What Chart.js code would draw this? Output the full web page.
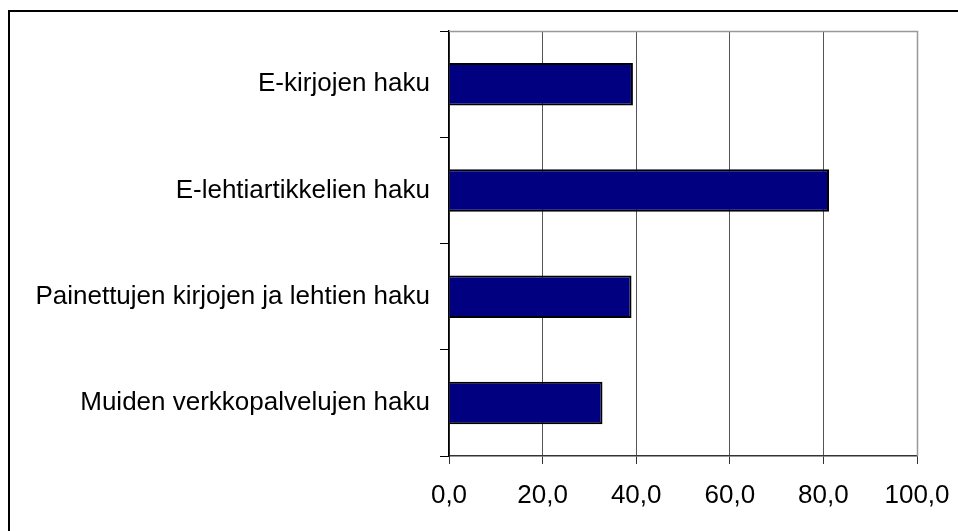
<!DOCTYPE html>
<html>
<head>
<meta charset="utf-8">
<script src="https://cdn.jsdelivr.net/npm/chart.js@4/dist/chart.umd.min.js"></script>
<style>
    html, body { margin: 0; padding: 0; background: #fff; }
    #wrap { position: relative; width: 958px; height: 531px; }
</style>
</head>
<body>
<div id="wrap"><canvas id="hakuChart"></canvas></div>
<script>
// Chart values
const categories = [
    'E-kirjojen haku',
    'E-lehtiartikkelien haku',
    'Painettujen kirjojen ja lehtien haku',
    'Muiden verkkopalvelujen haku'
];
const values = [39.3, 81.2, 39.0, 32.8];
const xTicks = [0, 20, 40, 60, 80, 100];

// Outer frame and grey plot edge, like the original spreadsheet chart
const framePlugin = {
    id: 'frame',
    beforeDraw(chart) {
        const c = chart.ctx;
        c.save();
        c.strokeStyle = '#000';
        c.lineWidth = 2;
        c.beginPath();
        c.moveTo(9, chart.height);
        c.lineTo(9, 11);
        c.lineTo(chart.width, 11);
        c.stroke();
        c.restore();
    },
    afterDraw(chart) {
        const c = chart.ctx;
        const area = chart.chartArea;
        c.save();
        c.strokeStyle = '#999';
        c.lineWidth = 1.5;
        c.beginPath();
        c.moveTo(area.left, area.top + 0.5);
        c.lineTo(area.right + 0.5, area.top + 0.5);
        c.lineTo(area.right + 0.5, area.bottom);
        c.stroke();
        c.restore();
    }
};

const font = { family: '"Liberation Sans", Arial, sans-serif', size: 26 };

new Chart(document.getElementById('hakuChart').getContext('2d'), {
    type: 'bar',
    data: {
        labels: categories,
        datasets: [{
            data: values,
            backgroundColor: '#000080',
            borderColor: '#000',
            borderWidth: 2,
            barPercentage: 0.4,
            categoryPercentage: 1.0
        }]
    },
    options: {
        indexAxis: 'y',
        responsive: true,
        maintainAspectRatio: false,
        animation: false,
        events: [],
        layout: { padding: { top: 31, right: 41, left: 0, bottom: 0 } },
        plugins: {
            legend: { display: false },
            tooltip: { enabled: false }
        },
        scales: {
            x: {
                min: 0,
                max: 100,
                afterBuildTicks: (scale) => {
                    scale.ticks = xTicks.map(v => ({ value: v }));
                },
                afterFit: (scale) => {
                    scale.height = 75;
                    scale.paddingLeft = 0;
                    scale.paddingRight = 0;
                },
                grid: {
                    color: (ctx) => ctx.tick && ctx.tick.value === 100 ? '#999' : '#555',
                    lineWidth: 1,
                    tickLength: 8,
                    tickColor: '#333'
                },
                border: { display: true, color: '#333', width: 1.5 },
                ticks: {
                    color: '#000',
                    font: font,
                    padding: 16,
                    maxRotation: 0,
                    callback: (v) => v.toFixed(1).replace('.', ',')
                }
            },
            y: {
                afterFit: (scale) => { scale.width = 449; },
                grid: {
                    offset: true,
                    drawOnChartArea: false,
                    tickLength: 9,
                    tickColor: '#000'
                },
                border: { display: true, color: '#000', width: 1.5 },
                ticks: {
                    color: '#000',
                    font: font,
                    padding: 10
                }
            }
        }
    },
    plugins: [framePlugin]
});
</script>
</body>
</html>
